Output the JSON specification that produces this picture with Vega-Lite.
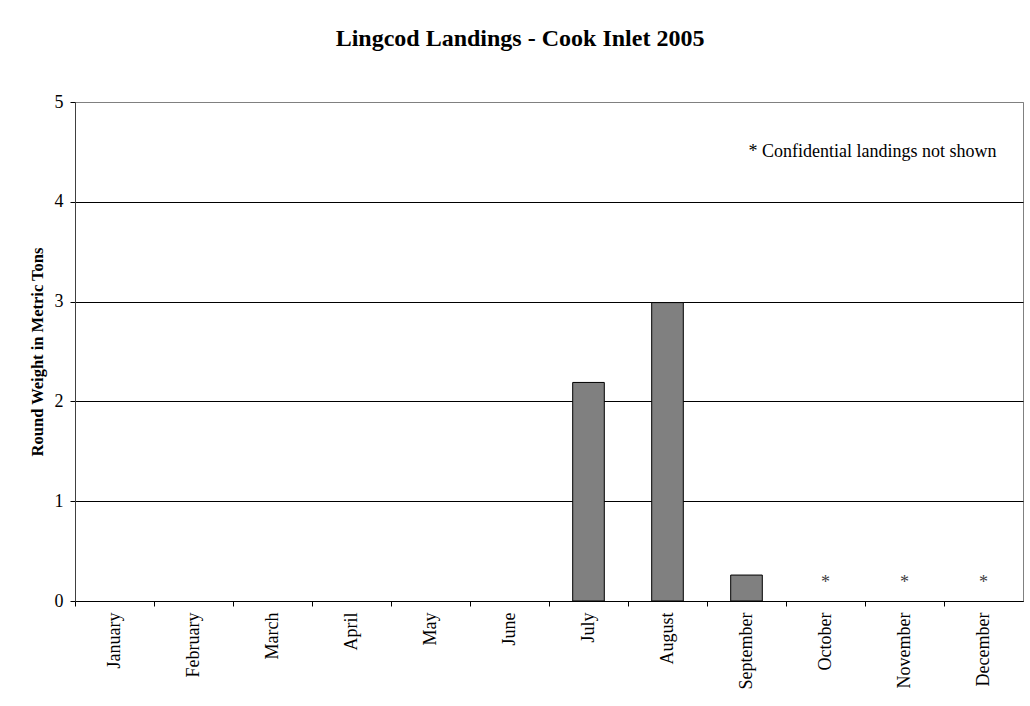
{
  "$schema": "https://vega.github.io/schema/vega-lite/v6.json",
  "width": 948,
  "height": 499,
  "autosize": "none",
  "padding": {"left": 75, "top": 102, "right": 7, "bottom": 105},
  "background": "white",
  "title": {
    "text": "Lingcod Landings - Cook Inlet 2005",
    "font": "Liberation Serif",
    "fontSize": 24,
    "fontWeight": "bold",
    "color": "black",
    "anchor": "middle",
    "frame": "group",
    "baseline": "alphabetic",
    "offset": 23,
    "dx": -29
  },
  "config": {
    "view": {"stroke": "#808080", "strokeWidth": 1},
    "axis": {
      "labelFont": "Liberation Serif",
      "titleFont": "Liberation Serif",
      "labelColor": "black",
      "titleColor": "black",
      "tickColor": "black",
      "domainColor": "black"
    }
  },
  "data": {
    "values": [
      {"month": "January", "tons": null, "note": ""},
      {"month": "February", "tons": null, "note": ""},
      {"month": "March", "tons": null, "note": ""},
      {"month": "April", "tons": null, "note": ""},
      {"month": "May", "tons": null, "note": ""},
      {"month": "June", "tons": null, "note": ""},
      {"month": "July", "tons": 2.19, "note": ""},
      {"month": "August", "tons": 2.99, "note": ""},
      {"month": "September", "tons": 0.26, "note": ""},
      {"month": "October", "tons": null, "note": "*"},
      {"month": "November", "tons": null, "note": "*"},
      {"month": "December", "tons": null, "note": "*"}
    ]
  },
  "encoding": {
    "x": {
      "field": "month",
      "type": "nominal",
      "sort": null,
      "scale": {
        "domain": ["January","February","March","April","May","June","July","August","September","October","November","December"],
        "paddingInner": 0,
        "paddingOuter": 0
      },
      "axis": {
        "title": null,
        "labelAngle": -90,
        "labelFontSize": 18,
        "labelPadding": 6,
        "tickSize": 5,
        "bandPosition": 0,
        "grid": false,
        "domainColor": "black"
      }
    }
  },
  "layer": [
    {
      "mark": {"type": "bar", "width": {"band": 0.4}, "fill": "#808080", "stroke": "black", "strokeWidth": 1},
      "encoding": {
        "y": {
          "field": "tons",
          "type": "quantitative",
          "scale": {"domain": [0, 5], "nice": false},
          "axis": {
            "title": "Round Weight in Metric Tons",
            "titleFontSize": 16.5,
            "titleFontWeight": "bold",
            "titlePadding": 9,
            "values": [0, 1, 2, 3, 4, 5],
            "format": "d",
            "labelFontSize": 18,
            "labelPadding": 7,
            "tickSize": 5,
            "domainColor": "#404040",
            "grid": true,
            "gridColor": {"condition": {"test": "datum.value == 5", "value": "#808080"}, "value": "black"},
            "gridOpacity": 1,
            "gridWidth": 1
          }
        }
      }
    },
    {
      "transform": [{"filter": "datum.note == '*'"}],
      "mark": {"type": "text", "font": "Liberation Serif", "fontSize": 18, "color": "#404040", "baseline": "alphabetic", "dy": -13},
      "encoding": {
        "y": {"datum": 0, "type": "quantitative"},
        "text": {"field": "note"}
      }
    },
    {
      "data": {"values": [{"month": "December", "y": 4.5, "label": "* Confidential landings not shown"}]},
      "mark": {"type": "text", "font": "Liberation Serif", "fontSize": 18, "color": "black", "align": "right", "baseline": "middle", "dx": 13},
      "encoding": {
        "y": {"field": "y", "type": "quantitative"},
        "text": {"field": "label"}
      }
    }
  ]
}
